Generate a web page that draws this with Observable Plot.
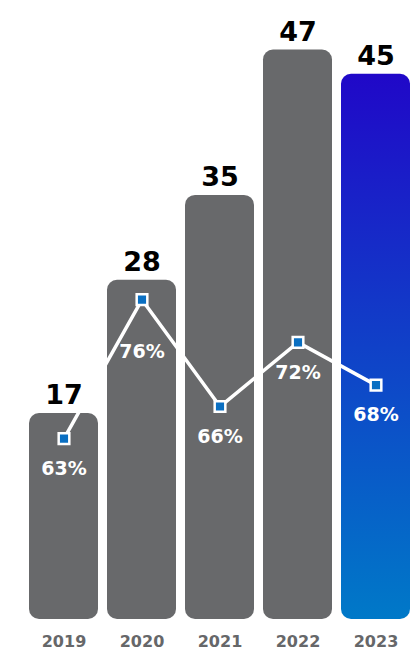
<!DOCTYPE html>
<html>
<head>
<meta charset="utf-8">
<script src="https://cdn.jsdelivr.net/npm/d3@7"></script>
<script src="https://cdn.jsdelivr.net/npm/@observablehq/plot@0.6"></script>
<style>
  html, body { margin: 0; padding: 0; background: #fff; }
  #chart svg { display: block; }
</style>
</head>
<body>
<div id="chart"></div>
<script>
const years = ["2019", "2020", "2021", "2022", "2023"];
const counts = [17, 28, 35, 47, 45];
const shares = [63, 76, 66, 72, 68];
const highlightYear = "2023";

const data = years.map((year, i) => ({year, count: counts[i], share: shares[i]}));

// secondary (percentage) axis mapped onto the count scale
const shareToY = p => 14.93 + (p - 63) * 0.882;

const font = "'DejaVu Sans', sans-serif";

const plot = Plot.plot({
  width: 412,
  height: 652,
  marginTop: 0,
  marginBottom: 33,
  marginLeft: 28,
  marginRight: 1,
  style: {fontFamily: font, background: "transparent", overflow: "visible"},
  x: {domain: years, range: [28, 411], paddingInner: 0.115, paddingOuter: 0, label: null},
  y: {domain: [0, 47], range: [619, 49.5], axis: null},
  marks: [
    Plot.barY(data.filter(d => d.year !== highlightYear), {x: "year", y: "count", fill: "#68696b", rx: 10}),
    Plot.barY(data.filter(d => d.year === highlightYear), {x: "year", y: "count", fill: "url(#barGrad)", rx: 10}),
    Plot.text(data, {x: "year", y: "count", text: d => String(d.count), dy: -18, fontSize: 27, fontWeight: 700, fill: "#000"}),
    Plot.line(data, {x: "year", y: d => shareToY(d.share), stroke: "#fff", strokeWidth: 3.5}),
    Plot.dot(data, {x: "year", y: d => shareToY(d.share), symbol: "square", r: 6, fill: "#0a6fc2", stroke: "#fff", strokeWidth: 2.5}),
    Plot.text(data.filter(d => d.year !== "2020"), {x: "year", y: d => shareToY(d.share), text: d => d.share + "%", dy: 30, fontSize: 19, fontWeight: 700, fill: "#fff"}),
    Plot.text(data.filter(d => d.year === "2020"), {x: "year", y: d => shareToY(d.share), text: d => d.share + "%", dy: 52, fontSize: 19, fontWeight: 700, fill: "#fff"}),
    Plot.axisX({tickSize: 0, tickPadding: 16, fontSize: 16, fontWeight: 700, fill: "#666769", label: null})
  ]
});

const svg = d3.select(plot);
const defs = svg.insert("defs", ":first-child");
const grad = defs.append("linearGradient")
  .attr("id", "barGrad").attr("x1", 0).attr("y1", 0).attr("x2", 0).attr("y2", 1);
grad.append("stop").attr("offset", "0%").attr("stop-color", "#2008c8");
grad.append("stop").attr("offset", "100%").attr("stop-color", "#0079c8");

document.getElementById("chart").appendChild(plot);
</script>
</body>
</html>
